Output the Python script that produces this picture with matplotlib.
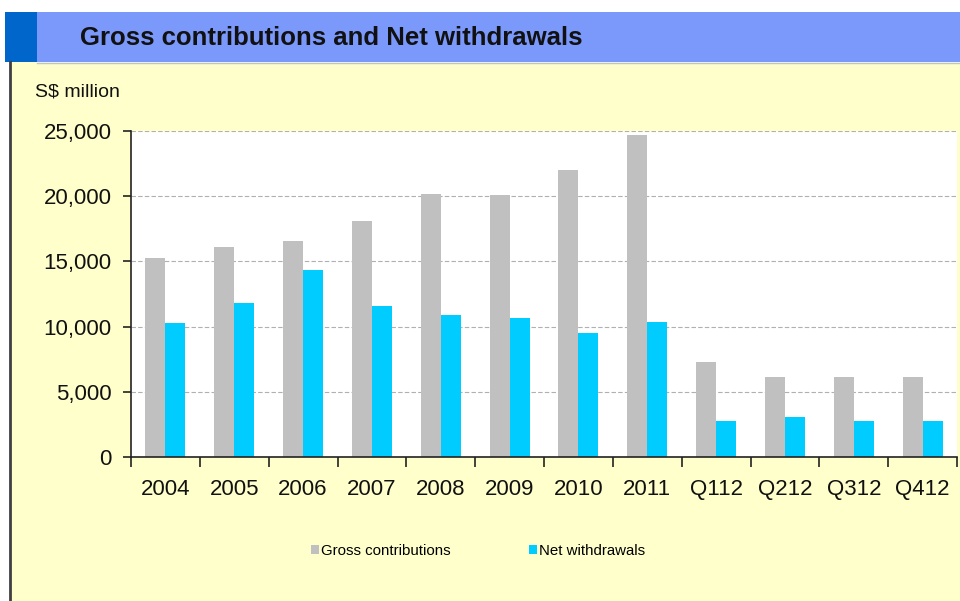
import numpy as np
import matplotlib.pyplot as plt
from matplotlib.patches import Rectangle
from matplotlib.lines import Line2D

# =========================
# Data
# =========================
periods = ["2004", "2005", "2006", "2007", "2008", "2009", "2010", "2011",
           "Q112", "Q212", "Q312", "Q412"]
gross_contributions = [15260, 16130, 16540, 18120, 20190, 20090, 21980, 24670,
                       7310, 6160, 6160, 6160]
net_withdrawals = [10300, 11840, 14370, 11580, 10890, 10690, 9530, 10380,
                   2760, 3090, 2760, 2760]
y_ticks = [0, 5000, 10000, 15000, 20000, 25000]

GRAY = "#c0c0c0"
CYAN = "#00ccff"
YELLOW = "#ffffcc"
DARK_BLUE = "#0066cc"
LIGHT_BLUE = "#7b98fb"

plt.rcParams["font.family"] = ["Liberation Sans", "DejaVu Sans"]

W, H = 960, 601
fig = plt.figure(figsize=(W / 100, H / 100), dpi=100, facecolor="white")


def px_rect(x0, y0, x1, y1, color):
    # rectangle in pixel coords measured from the top-left corner
    fig.patches.append(Rectangle((x0 / W, 1 - y1 / H), (x1 - x0) / W, (y1 - y0) / H,
                                 transform=fig.transFigure, facecolor=color,
                                 edgecolor="none", zorder=-2))


# =========================
# Background panels
# =========================
px_rect(10, 62, W, H, YELLOW)
px_rect(5, 12, 37, 62, DARK_BLUE)
px_rect(37, 12, W, 62, LIGHT_BLUE)
fig.lines.append(Line2D([37 / W, 1], [1 - 62.5 / H] * 2, transform=fig.transFigure,
                        color="#b8c4d8", linewidth=1, zorder=-1))
fig.lines.append(Line2D([10 / W] * 2, [0, 1 - 62 / H], transform=fig.transFigure,
                        color="#404040", linewidth=2, zorder=-1))

fig.text(80 / W, 1 - 38 / H, "Gross contributions and Net withdrawals",
         fontsize=18.5, fontweight="bold", color="#111111", va="center", ha="left")
fig.text(35 / W, 1 - 92 / H, "S$ million", fontsize=14, color="#111111",
         va="center", ha="left")

# =========================
# Bar chart
# =========================
ax = fig.add_axes([131 / W, 1 - 457 / H, 826 / W, 326 / H])
ax.set_zorder(1)
ax.set_facecolor("white")

x = np.arange(len(periods))
bw = 0.29
ax.bar(x - bw / 2, gross_contributions, width=bw, color=GRAY, label="Gross contributions", zorder=2)
ax.bar(x + bw / 2, net_withdrawals, width=bw, color=CYAN, label="Net withdrawals", zorder=2)

ax.set_xlim(-0.5, len(periods) - 0.5)
ax.set_ylim(0, 25000)
ax.set_yticks(y_ticks)
ax.set_yticklabels([f"{v:,}" for v in y_ticks], fontsize=16, color="#111111")
ax.set_xticks(x)
ax.set_xticklabels(periods, fontsize=16, color="#111111")
ax.set_xticks(np.arange(len(periods) + 1) - 0.5, minor=True)
ax.tick_params(axis="x", which="major", length=0, pad=16)
ax.tick_params(axis="x", which="minor", length=7, width=1.2, color="#222222")
ax.tick_params(axis="y", length=6, width=1.2, color="#222222", pad=8)

ax.yaxis.grid(True, linestyle=(0, (4, 2)), color="#b0b0b0", linewidth=0.8, zorder=0)
ax.set_axisbelow(True)
for side in ["top", "right"]:
    ax.spines[side].set_visible(False)
for side in ["left", "bottom"]:
    ax.spines[side].set_color("#222222")
    ax.spines[side].set_linewidth(1.2)

handles, labels = ax.get_legend_handles_labels()
fig.legend(handles, labels, loc="center", bbox_to_anchor=(478 / W, 1 - 551 / H),
           ncol=2, frameon=False, fontsize=10.8, handlelength=0.55, handleheight=0.55,
           handletextpad=0.15, columnspacing=5.2)

fig.savefig("out.png", dpi=100, facecolor=fig.get_facecolor())
